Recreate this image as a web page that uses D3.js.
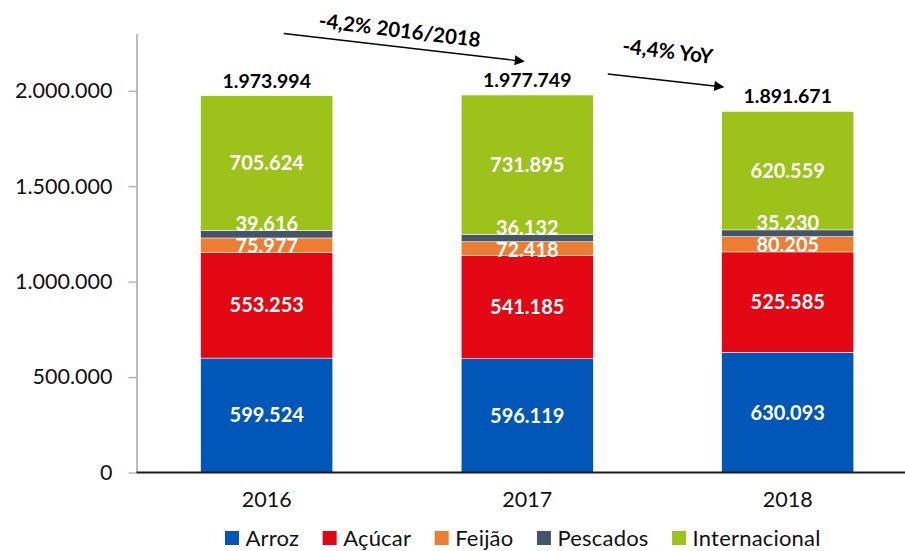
<!DOCTYPE html>
<html>
<head>
<meta charset="utf-8">
<script src="https://cdn.jsdelivr.net/npm/d3@7"></script>
<style>
  html, body { margin: 0; padding: 0; background: #fff; }
  svg { display: block; font-family: Lato, "Open Sans", sans-serif; }
</style>
</head>
<body>
<svg id="chart" width="905" height="551"></svg>
<script>
// ---- Data ----
const years = ["2016", "2017", "2018"];
const seriesNames = ["Arroz", "Açúcar", "Feijão", "Pescados", "Internacional"];
const arroz = [599524, 596119, 630093];
const acucar = [553253, 541185, 525585];
const feijao = [75977, 72418, 80205];
const pescados = [39616, 36132, 35230];
const internacional = [705624, 731895, 620559];
const totals = [1973994, 1977749, 1891671];
const yTickValues = [0, 500000, 1000000, 1500000, 2000000];
const seriesColors = ["#0057B8", "#E30613", "#ED7D31", "#44546A", "#9DC31B"];
const annotationTexts = ["-4,2% 2016/2018", "-4,4% YoY"];

// ---- Setup ----
const svg = d3.select("#chart");
const fmt = d3.formatLocale({ decimal: ",", thousands: ".", grouping: [3], currency: ["", ""] }).format(",d");

const seriesValues = [arroz, acucar, feijao, pescados, internacional];
const table = years.map((yr, i) => {
  const row = { year: yr };
  seriesNames.forEach((s, k) => row[s] = seriesValues[k][i]);
  return row;
});
const stacked = d3.stack().keys(seriesNames)(table);

const x = d3.scaleBand().domain(years).range([136.5, 918]).paddingInner(0.493).paddingOuter(0.2465);
const y = d3.scaleLinear().domain([0, 2300000]).range([472.5, 33.5]);
const color = d3.scaleOrdinal().domain(seriesNames).range(seriesColors);
const cx = yr => x(yr) + x.bandwidth() / 2;

// ---- Y axis ----
const yAxis = d3.axisLeft(y).tickValues(yTickValues).tickSize(8).tickSizeOuter(0).tickPadding(16).tickFormat(fmt);
const gy = svg.append("g").attr("transform", "translate(136.5,0)").call(yAxis);
gy.select(".domain").attr("stroke", "#A6A6A6").attr("stroke-width", 1.5);
gy.selectAll(".tick line").attr("stroke", "#A6A6A6").attr("stroke-width", 1.2);
gy.selectAll(".tick text").attr("font-size", 21.5).attr("fill", "#111").attr("font-family", "Lato, sans-serif");

// ---- Bars ----
const layers = svg.append("g").selectAll("g").data(stacked).join("g")
  .attr("fill", d => color(d.key));
layers.selectAll("rect").data(d => d).join("rect")
  .attr("x", d => x(d.data.year))
  .attr("width", x.bandwidth())
  .attr("y", d => y(d[1]))
  .attr("height", d => y(d[0]) - y(d[1]))
  .attr("stroke", "#fff").attr("stroke-width", 0.5);

// ---- X axis baseline ----
svg.append("line").attr("x1", 136.5).attr("x2", 905).attr("y1", y(0)).attr("y2", y(0))
  .attr("stroke", "#1a1a1a").attr("stroke-width", 1.8);
const xAxis = d3.axisBottom(x).tickSize(0).tickPadding(19);
const gx = svg.append("g").attr("transform", `translate(0,${y(0)})`).call(xAxis);
gx.select(".domain").remove();
gx.selectAll(".tick text").attr("font-size", 21.5).attr("fill", "#111").attr("font-family", "Lato, sans-serif");

// ---- Segment labels ----
const labelsG = svg.append("g").attr("font-weight", "bold").attr("font-size", 20).attr("fill", "#fff").attr("text-anchor", "middle");
stacked.forEach((layer, k) => {
  layer.forEach((d, i) => {
    let yc = (y(d[0]) + y(d[1])) / 2;
    if (layer.key === "Feijão") yc += 1;
    if (layer.key === "Pescados") {
      const f = stacked[2][i];
      const fc = (y(f[0]) + y(f[1])) / 2 + 1;
      yc = Math.min(yc, fc - 22);
    }
    labelsG.append("text").attr("x", cx(d.data.year)).attr("y", yc).attr("dy", "0.36em")
      .text(fmt(d.data[layer.key]));
  });
});

// ---- Totals ----
svg.append("g").selectAll("text").data(years).join("text")
  .attr("x", d => cx(d)).attr("y", (d, i) => y(totals[i]) - 15).attr("dy", "0.36em")
  .attr("text-anchor", "middle").attr("font-weight", "bold").attr("font-size", 19.5).attr("fill", "#000")
  .text((d, i) => fmt(totals[i]));

// ---- Annotations (arrows) ----
const defs = svg.append("defs");
defs.append("marker").attr("id", "arr").attr("viewBox", "0 0 10 10").attr("refX", 9).attr("refY", 5)
  .attr("markerWidth", 12).attr("markerHeight", 10).attr("markerUnits", "userSpaceOnUse").attr("orient", "auto")
  .append("path").attr("d", "M0,0 L10,5 L0,10 Z").attr("fill", "#000");
const arrows = [
  { x1: cx("2016") + 17, v1: 2300000, x2: cx("2017") - 3.5, v2: 2154000 },
  { x1: cx("2017") + 80.5, v1: 2087800, x2: cx("2018") - 64.5, v2: 2019700 }
];
svg.append("g").selectAll("line").data(arrows).join("line")
  .attr("x1", d => d.x1).attr("y1", d => y(d.v1)).attr("x2", d => d.x2).attr("y2", d => y(d.v2))
  .attr("stroke", "#000").attr("stroke-width", 1.3).attr("marker-end", "url(#arr)");
const annoPos = [
  { x: cx("2016") + 133, v: 2318300 },
  { x: cx("2017") + 140.5, v: 2208300 }
];
svg.append("g").selectAll("text").data(annotationTexts).join("text")
  .attr("transform", (d, i) => `translate(${annoPos[i].x},${y(annoPos[i].v)}) rotate(7)`)
  .attr("dy", "0.36em").attr("text-anchor", "middle").attr("font-weight", "bold").attr("font-size", 20.5)
  .attr("fill", "#000").text(d => d);

// ---- Legend ----
const legend = svg.append("g").attr("transform", "translate(225,538)");
let lx = 0;
seriesNames.forEach((s, k) => {
  const g = legend.append("g").attr("transform", `translate(${lx},0)`);
  g.append("rect").attr("x", 0).attr("y", -7).attr("width", 14).attr("height", 14).attr("fill", seriesColors[k]);
  const t = g.append("text").attr("x", 20.5).attr("y", 0).attr("dy", "0.36em").attr("font-size", 22)
    .attr("letter-spacing", 0.2).attr("fill", "#111").text(s);
  lx += 20.5 + t.node().getComputedTextLength() + 23.5;
});
</script>
</body>
</html>
